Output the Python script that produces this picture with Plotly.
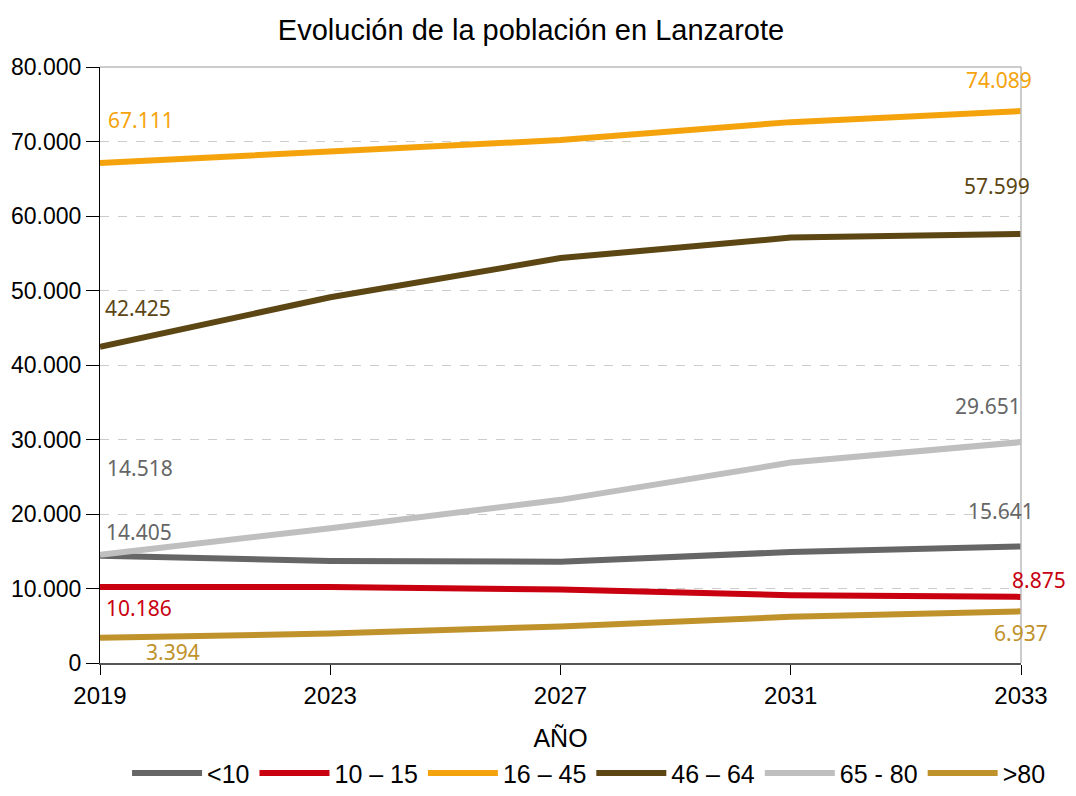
import plotly.graph_objects as go

# data
years = ['2019', '2023', '2027', '2031', '2033']
series_names = ['<10', '10 – 15', '16 – 45', '46 – 64', '65 - 80', '>80']
menos_10 = [14405, 13700, 13600, 14900, 15641]
de_10_15 = [10186, 10200, 9850, 9100, 8875]
de_16_45 = [67111, 68700, 70200, 72600, 74089]
de_46_64 = [42425, 49100, 54350, 57100, 57599]
de_65_80 = [14518, 18100, 21900, 26900, 29651]
mas_80 = [3394, 3950, 4900, 6200, 6937]

colors = ['#666666', '#C8000F', '#F5A30C', '#5C4614', '#BFBFBF', '#C0922C']
label_colors = ['#666666', '#C8000F', '#F5A30C', '#5C4614', '#666666', '#C0922C']
all_values = [menos_10, de_10_15, de_16_45, de_46_64, de_65_80, mas_80]

# label offsets in pixels (x, y) for first and last points
first_shift = [(4, 24), (4, -21), (6, 43), (3, 39), (5, 87), (44, -14)]
last_shift = [(15, 35), (47, 17), (13, 31), (11, 48), (2, 36), (29, -22)]

fig = go.Figure()

for name, vals, col in zip(series_names, all_values, colors):
    fig.add_trace(go.Scatter(
        x=years,
        y=vals,
        mode='lines',
        name=name,
        line=dict(color=col, width=6),
        hovertemplate='%{y:,d}<extra></extra>'
    ))


def fmt(v):
    return f"{v:,}".replace(',', '.')


annotations = []
last = len(years) - 1
for vals, lc, fs, ls in zip(all_values, label_colors, first_shift, last_shift):
    # category axis: annotation x given as category index
    annotations.append(dict(
        x=0, y=vals[0], xref='x', yref='y', text=fmt(vals[0]),
        showarrow=False, xanchor='left', xshift=fs[0], yshift=fs[1],
        font=dict(family='Noto Sans', size=21, color=lc)
    ))
    annotations.append(dict(
        x=last, y=vals[-1], xref='x', yref='y', text=fmt(vals[-1]),
        showarrow=False, xanchor='right', xshift=ls[0], yshift=ls[1],
        font=dict(family='Noto Sans', size=21, color=lc)
    ))

fig.update_layout(
    title=dict(text='Evolución de la población en Lanzarote', x=0.4934, xanchor='center',
               y=0.972, yanchor='middle',
               font=dict(family='Liberation Sans', size=29, color='#000000')),
    width=1060,
    height=780,
    margin=dict(l=92, r=47, t=59, b=125, autoexpand=False),
    plot_bgcolor='white',
    paper_bgcolor='white',
    separators=',.',
    font=dict(family='Liberation Sans', size=24, color='#000000'),
    annotations=annotations,
    showlegend=True,
    legend=dict(orientation='h', x=0.531, xanchor='center', y=-0.185, yanchor='middle',
                font=dict(family='Liberation Sans', size=25, color='#000000'),
                itemwidth=70, traceorder='normal'),
)

fig.update_xaxes(
    type='category',
    range=[0, 4],
    automargin=False,
    showline=True, linecolor='#555555', linewidth=2,
    ticks='outside', ticklen=10, tickcolor='#000000',
    showgrid=False,
    title=dict(text='AÑO', font=dict(size=25), standoff=22),
    tickfont=dict(size=24),
)

fig.update_yaxes(
    range=[0, 80000],
    tick0=0, dtick=10000,
    tickformat=',d',
    automargin=False,
    showline=True, linecolor='#000000', linewidth=1,
    ticks='outside', ticklen=13, tickcolor='#000000',
    showgrid=True, gridcolor='#CCCCCC', griddash='dash', gridwidth=1,
    zeroline=False,
    tickfont=dict(size=23),
)

# gray frame on top and right of plot area
fig.add_shape(type='line', xref='paper', yref='paper', x0=0, x1=1, y0=1, y1=1,
              line=dict(color='#BBBBBB', width=1.5))
fig.add_shape(type='line', xref='paper', yref='paper', x0=1, x1=1, y0=0, y1=1,
              line=dict(color='#BBBBBB', width=1.5))

fig.write_html("out.html")
